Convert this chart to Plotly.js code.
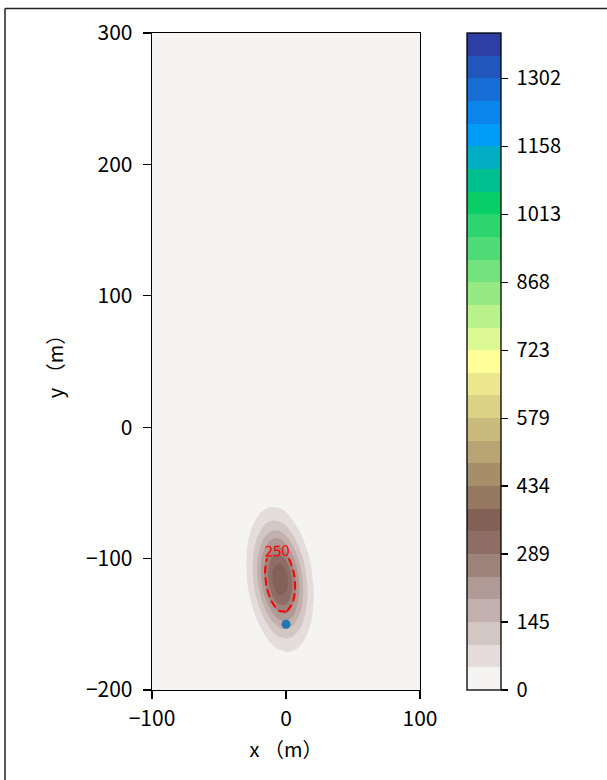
<!DOCTYPE html>
<html><head><meta charset="utf-8">
<script src="https://cdn.plot.ly/plotly-3.0.1.min.js"></script>
<style>html,body{margin:0;padding:0;background:#fff;} #chart{width:607px;height:780px;}</style>
</head><body><div id="chart"></div>
<script>
// ---- data ----
const xGrid = [-100, -40, -35, -30, -25, -20, -15, -10, -5, 0, 5, 10, 15, 20, 25, 30, 35, 100];
const yGrid = [-200, -190, -180, -170, -160, -150, -140, -130, -120, -110, -100, -90, -80, -70, -60, -50, -40, 300];
const zGrid = [
  [0, 0,0,0,0,0,0,0,0,0,0,0,0,0,0,0,0, 0],
  [0, 0.0,0.1,0.2,0.6,1.4,2.9,4.9,7.1,8.6,8.8,7.5,5.4,3.3,1.7,0.7,0.3, 0],
  [0, 0.1,0.2,0.7,1.8,4.3,8.4,13.9,19.3,22.6,22.2,18.3,12.7,7.4,3.6,1.5,0.5, 0],
  [0, 0.1,0.6,1.8,4.9,11.1,21.1,33.8,45.4,51.2,48.6,38.8,26.0,14.7,7.0,2.8,0.9, 0],
  [0, 0.4,1.4,4.4,11.5,25.1,46.1,71.2,92.3,100.7,92.3,71.2,46.1,25.1,11.5,4.4,1.4, 0],
  [0, 0.9,3.1,9.3,23.3,49.1,87.1,129.8,162.7,171.4,151.8,113.0,70.7,37.2,16.5,6.1,1.9, 0],
  [0, 1.7,5.8,16.8,40.8,83.1,142.4,205.0,248.1,252.5,216.0,155.3,93.8,47.7,20.4,7.3,2.2, 0],
  [0, 2.9,9.5,26.4,61.9,121.7,201.4,280.1,327.4,321.8,265.8,184.6,107.8,52.9,21.8,7.6,2.2, 0],
  [0, 4.2,13.3,36.0,81.3,154.5,246.9,331.6,374.5,355.5,283.7,190.3,107.3,50.8,20.3,6.8,1.9, 0],
  [0, 5.3,16.3,42.3,92.5,169.7,261.9,339.9,370.7,339.9,261.9,169.7,92.5,42.3,16.3,5.3,1.4, 0],
  [0, 5.8,17.2,43.1,91.0,161.4,240.6,301.6,317.7,281.3,209.5,131.1,69.0,30.5,11.3,3.5,0.9, 0],
  [0, 5.4,15.7,38.1,77.6,132.9,191.4,231.6,235.7,201.6,145.0,87.6,44.5,19.0,6.8,2.1,0.5, 0],
  [0, 4.5,12.4,29.1,57.3,94.7,131.8,154.0,151.4,125.1,86.9,50.7,24.9,10.3,3.6,1.0,0.2, 0],
  [0, 3.2,8.5,19.3,36.7,58.6,78.7,88.9,84.4,67.3,45.2,25.5,12.1,4.8,1.6,0.5,0.1, 0],
  [0, 1.9,5.1,11.0,20.3,31.3,40.6,44.3,40.6,31.3,20.3,11.0,5.1,1.9,0.6,0.2,0.0, 0],
  [0, 1.0,2.6,5.5,9.7,14.5,18.2,19.1,16.9,12.6,7.9,4.2,1.8,0.7,0.2,0.1,0.0, 0],
  [0, 0.5,1.1,2.3,4.0,5.8,7.0,7.1,6.1,4.4,2.6,1.3,0.6,0.2,0.1,0.0,0.0, 0],
  [0, 0,0,0,0,0,0,0,0,0,0,0,0,0,0,0,0, 0]
];
const levelStart = 0;
const levelEnd = 1398.7;
const levelCount = 30;
const cbTickVals = [0, 144.7, 289.4, 434.1, 578.8, 723.4, 868.1, 1012.8, 1157.5, 1302.2];
const cbTickText = ['0', '145', '289', '434', '579', '723', '868', '1013', '1158', '1302'];
const labelLevel = 250;
const sourceX = [0];
const sourceY = [-150];
const xTickVals = [-100, 0, 100];
const xTickText = ['\u2212100', '0', '100'];
const yTickVals = [-200, -100, 0, 100, 200, 300];
const yTickText = ['\u2212200', '\u2212100', '0', '100', '200', '300'];

// ---- colormap (matplotlib terrain, reversed) ----
const terrainAnchors = [
  [0.00, [0.2, 0.2, 0.6]],
  [0.15, [0.0, 0.6, 1.0]],
  [0.25, [0.0, 0.8, 0.4]],
  [0.50, [1.0, 1.0, 0.6]],
  [0.75, [0.5, 0.36, 0.33]],
  [1.00, [1.0, 1.0, 1.0]]
];
function terrain(t) {
  for (let i = 0; i < terrainAnchors.length - 1; i++) {
    const [t0, c0] = terrainAnchors[i], [t1, c1] = terrainAnchors[i + 1];
    if (t >= t0 && t <= t1) {
      const f = (t - t0) / (t1 - t0);
      const c = c0.map((v, k) => Math.round(255 * (v + f * (c1[k] - v))));
      return 'rgb(' + c.join(',') + ')';
    }
  }
  return 'rgb(255,255,255)';
}
const nBands = levelCount - 1;
const levelSize = (levelEnd - levelStart) / nBands;
const bandColors = [];
for (let i = 0; i < nBands; i++) bandColors.push(terrain(1 - (i + 0.5) / nBands));
// colorscale for the filled contour (plotly samples band i at (i+1)/levelCount)
const colorscale = [[0, bandColors[0]]];
for (let i = 0; i < nBands; i++) colorscale.push([(i + 1) / levelCount, bandColors[i]]);
colorscale.push([1, bandColors[nBands - 1]]);
// stepped colorscale for the colour bar
const stepScale = [];
for (let i = 0; i < nBands; i++) {
  stepScale.push([i / nBands, bandColors[i]]);
  stepScale.push([(i + 1) / nBands, bandColors[i]]);
}

const font = 'Noto Sans CJK SC, Noto Sans, sans-serif';
const fs = 20;
const nb = '\u00a0';

const traces = [
  {
    type: 'contour', x: xGrid, y: yGrid, z: zGrid,
    autocontour: false, showscale: false,
    contours: {start: levelStart, end: levelEnd, size: levelSize, coloring: 'fill', showlines: false},
    line: {width: 0, smoothing: 1.2},
    colorscale: colorscale,
    hoverinfo: 'skip'
  },
  {
    type: 'contour', x: xGrid, y: yGrid, z: zGrid,
    autocontour: false, showscale: false,
    contours: {start: labelLevel, end: labelLevel, size: 1, coloring: 'none', showlabels: true,
      labelfont: {family: font, size: 15, color: 'red'}},
    line: {color: 'red', width: 2, dash: '8px,4px', smoothing: 1.2},
    hoverinfo: 'skip'
  },
  {
    type: 'scatter', mode: 'markers', x: sourceX, y: sourceY,
    marker: {color: '#1f77b4', size: 9}, showlegend: false, hoverinfo: 'skip'
  },
  {
    // carrier of the colour bar only (invisible marker)
    type: 'scatter', mode: 'markers', x: sourceX, y: sourceY, showlegend: false, hoverinfo: 'skip',
    marker: {
      color: [levelStart, levelEnd], cmin: levelStart, cmax: levelEnd, colorscale: stepScale,
      opacity: 0, size: 1, showscale: true,
      colorbar: {
        x: (467 - 152) / 268, xanchor: 'left', xpad: 0, ypad: 0,
        y: 0.5, yanchor: 'middle', len: 1, lenmode: 'fraction',
        thickness: 34, thicknessmode: 'pixels',
        outlinewidth: 1.3, outlinecolor: '#000',
        ticks: 'outside', ticklen: 7, tickwidth: 1.2, tickcolor: '#000',
        tickvals: cbTickVals, ticktext: cbTickText.map(t => nb + t),
        tickfont: {family: font, size: fs, color: '#000'}
      }
    }
  }
];

const px2xp = px => (px - 152) / 268;
const py2yp = py => (690 - py) / 657;

const layout = {
  width: 607, height: 780,
  margin: {l: 152, r: 187, t: 33, b: 90},
  paper_bgcolor: '#fff', plot_bgcolor: bandColors[0],
  showlegend: false,
  font: {family: font, size: fs, color: '#000'},
  xaxis: {
    range: [-100, 100], tickvals: xTickVals, ticktext: xTickText,
    ticks: 'outside', ticklen: 8, tickwidth: 1.2, tickcolor: '#000',
    showline: true, linecolor: '#000', linewidth: 1.3, mirror: true,
    showgrid: false, zeroline: false, ticklabelstandoff: 1,
    tickfont: {family: font, size: 21},
    title: {text: 'x （m）', font: {family: font, size: fs}, standoff: 12}
  },
  yaxis: {
    range: [-200, 300], tickvals: yTickVals, ticktext: yTickText,
    ticks: 'outside', ticklen: 8, tickwidth: 1.2, tickcolor: '#000',
    showline: true, linecolor: '#000', linewidth: 1.3, mirror: true,
    showgrid: false, zeroline: false, ticklabelstandoff: 6,
    tickfont: {family: font, size: 21},
    title: {text: 'y （m）', font: {family: font, size: fs}, standoff: 17}
  },
  shapes: [
    {type: 'line', xref: 'paper', yref: 'paper', x0: px2xp(5), x1: px2xp(607), y0: py2yp(8.5), y1: py2yp(8.5),
      line: {color: '#222', width: 1.5}},
    {type: 'line', xref: 'paper', yref: 'paper', x0: px2xp(5), x1: px2xp(5), y0: py2yp(8.5), y1: py2yp(780),
      line: {color: '#222', width: 1.5}}
  ]
};

Plotly.newPlot('chart', traces, layout, {displayModeBar: false, staticPlot: true});
</script>
</body></html>
